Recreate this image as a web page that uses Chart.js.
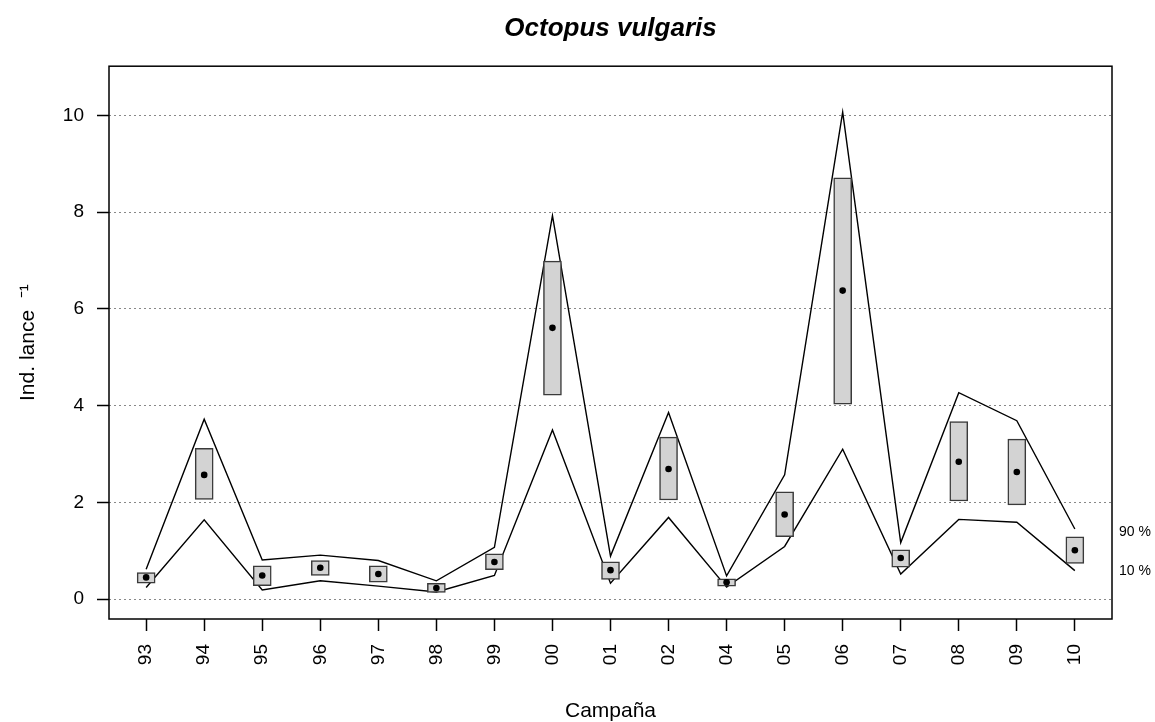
<!DOCTYPE html>
<html>
<head>
<meta charset="utf-8">
<script src="https://cdn.jsdelivr.net/npm/chart.js@4"></script>
<style>
  body { margin: 0; background: #fff; }
</style>
</head>
<body>
<canvas id="myChart" width="1155" height="722"></canvas>
<script>
'use strict';
// campaigns (no 03)
const campaigns = ['93', '94', '95', '96', '97', '98', '99', '00', '01', '02', '04', '05', '06', '07', '08', '09', '10'];
const means = [0.45, 2.57, 0.49, 0.65, 0.52, 0.23, 0.77, 5.61, 0.60, 2.69, 0.35, 1.75, 6.38, 0.85, 2.84, 2.63, 1.01];
const boxLow = [0.33, 2.06, 0.28, 0.49, 0.35, 0.14, 0.61, 4.22, 0.41, 2.05, 0.27, 1.29, 4.03, 0.66, 2.03, 1.95, 0.74];
const boxHigh = [0.55, 3.12, 0.69, 0.80, 0.69, 0.33, 0.94, 6.99, 0.77, 3.35, 0.42, 2.22, 8.71, 1.02, 3.67, 3.31, 1.29];
const p90 = [0.62, 3.72, 0.81, 0.91, 0.80, 0.38, 1.07, 7.93, 0.89, 3.86, 0.48, 2.57, 10.07, 1.17, 4.27, 3.69, 1.45];
const p10 = [0.24, 1.64, 0.19, 0.38, 0.27, 0.15, 0.49, 3.50, 0.33, 1.69, 0.25, 1.09, 3.10, 0.52, 1.65, 1.59, 0.59];
const yTicks = [0, 2, 4, 6, 8, 10];
const sideLabels = ['90 %', '10 %'];
const sideLabelY = [1.39, 0.57];

Chart.defaults.font.family = "'Liberation Sans', Arial, sans-serif";
Chart.defaults.color = '#000';

const xy = (arr) => arr.map((v, i) => ({ x: i, y: v }));

const frame = {
  id: 'frame',
  afterDraw(chart) {
    const { ctx, chartArea: a, scales } = chart;
    ctx.save();
    ctx.strokeStyle = '#000';
    ctx.lineWidth = 1.5;
    ctx.strokeRect(a.left, a.top, a.right - a.left, a.bottom - a.top);
    ctx.font = "14px 'Liberation Sans', Arial, sans-serif";
    ctx.fillStyle = '#000';
    ctx.textAlign = 'left';
    ctx.textBaseline = 'middle';
    sideLabels.forEach((t, i) => {
      ctx.fillText(t, a.right + 7, scales.y.getPixelForValue(sideLabelY[i]));
    });
    ctx.restore();
  }
};

const ctx = document.getElementById('myChart').getContext('2d');
const myChart = new Chart(ctx, {
  type: 'bar',
  data: {
    datasets: [
      {
        type: 'line',
        data: xy(means),
        showLine: false,
        pointRadius: 3.3,
        pointBackgroundColor: '#000',
        pointBorderWidth: 0,
        order: 0
      },
      {
        type: 'bar',
        data: boxLow.map((lo, i) => ({ x: i, y: [lo, boxHigh[i]] })),
        backgroundColor: '#d3d3d3',
        borderColor: '#3a3a3a',
        borderWidth: 1.5,
        borderSkipped: false,
        barThickness: 18,
        grouped: false,
        order: 1
      },
      {
        type: 'line',
        data: xy(p90),
        borderColor: '#000',
        borderWidth: 1.4,
        pointRadius: 0,
        tension: 0,
        order: 2
      },
      {
        type: 'line',
        data: xy(p10),
        borderColor: '#000',
        borderWidth: 1.4,
        pointRadius: 0,
        tension: 0,
        order: 3
      }
    ]
  },
  options: {
    responsive: false,
    animation: false,
    layout: { padding: { left: 0, right: 43, top: 0, bottom: 0 } },
    plugins: {
      legend: { display: false },
      tooltip: { enabled: false },
      title: {
        display: true,
        text: 'Octopus vulgaris',
        fullSize: false,
        font: { size: 26, weight: 'bold', style: 'italic' },
        padding: { top: 13, bottom: 22 }
      }
    },
    scales: {
      x: {
        type: 'linear',
        min: -0.64,
        max: 16.64,
        offset: false,
        afterBuildTicks: (s) => { s.ticks = campaigns.map((c, i) => ({ value: i })); },
        afterFit: (s) => { s.height = 103; },
        ticks: {
          autoSkip: false,
          minRotation: 90,
          maxRotation: 90,
          padding: 13,
          font: { size: 19 },
          callback: (v) => campaigns[v]
        },
        grid: {
          offset: false,
          drawOnChartArea: false,
          drawTicks: true,
          tickLength: 12,
          tickColor: '#000',
          tickWidth: 1.5
        },
        border: { display: false },
        title: {
          display: true,
          text: 'Campaña',
          font: { size: 21, lineHeight: 1 },
          padding: { top: 0, bottom: 0 }
        }
      },
      y: {
        min: -0.41,
        max: 11.02,
        afterBuildTicks: (s) => { s.ticks = yTicks.map((v) => ({ value: v })); },
        afterFit: (s) => { s.width = 109; },
        ticks: {
          padding: 13,
          font: { size: 19 }
        },
        grid: {
          color: '#888',
          lineWidth: 1,
          tickLength: 12,
          tickColor: '#000',
          tickWidth: 1.5,
          tickBorderDash: []
        },
        border: { display: false, dash: [2, 3] },
        title: {
          display: true,
          text: 'Ind. lance  ⁻¹',
          font: { size: 21 },
          padding: { top: 16, bottom: 0 }
        }
      }
    }
  },
  plugins: [frame]
});
</script>
</body>
</html>
